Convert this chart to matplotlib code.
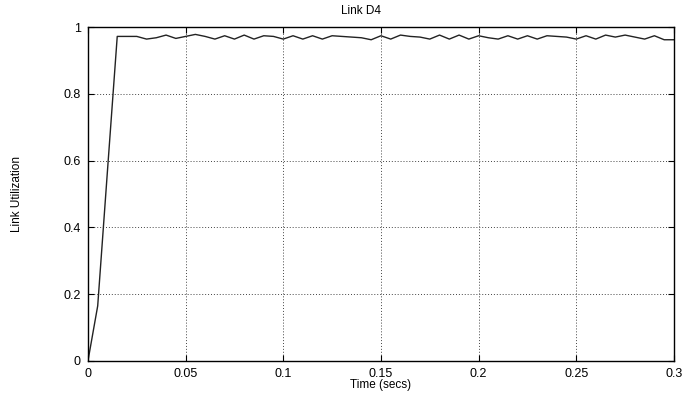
import matplotlib
matplotlib.use("Agg")
import matplotlib.pyplot as plt
import numpy as np

plt.rcParams['font.family'] = ['Liberation Sans', 'DejaVu Sans']

# samples every 5 ms
time = np.arange(61) * 0.005
util = [0.0, 0.165, 0.57, 0.972, 0.972, 0.972, 0.964, 0.968, 0.976, 0.966,
        0.972, 0.978, 0.972, 0.964, 0.974, 0.964, 0.976, 0.964, 0.974, 0.972,
        0.964, 0.974, 0.964, 0.974, 0.964, 0.974, 0.972, 0.970, 0.968, 0.962,
        0.974, 0.964, 0.976, 0.972, 0.970, 0.964, 0.976, 0.964, 0.976, 0.964,
        0.974, 0.968, 0.964, 0.974, 0.964, 0.974, 0.964, 0.974, 0.972, 0.970,
        0.964, 0.974, 0.964, 0.976, 0.970, 0.976, 0.970, 0.964, 0.974, 0.962,
        0.962]
xticks = [0, 0.05, 0.1, 0.15, 0.2, 0.25, 0.3]
xticklabels = ['0', '0.05', '0.1', '0.15', '0.2', '0.25', '0.3']
yticks = [0, 0.2, 0.4, 0.6, 0.8, 1]
yticklabels = ['0', '0.2', '0.4', '0.6', '0.8', '1']

fig = plt.figure(figsize=(6.87, 3.98), dpi=100)
ax = fig.add_axes([0.128, 0.093, 0.853, 0.839])

ax.plot(time, util, color='#222222', lw=1.0)

ax.set_xlim(0, 0.3)
ax.set_ylim(0, 1)
ax.set_xticks(xticks)
ax.set_xticklabels(xticklabels)
ax.set_yticks(yticks)
ax.set_yticklabels(yticklabels)
ax.tick_params(direction='in', top=True, right=True, length=4, width=0.8,
               labelsize=9, pad=5, colors='black')
ax.grid(True, linestyle=(0, (1, 2)), color='#444444', lw=0.7)
for s in ax.spines.values():
    s.set_linewidth(1.0)

fig.text(361 / 687, 1 - 11 / 398, 'Link D4', fontsize=8.5, ha='center', va='center')
ax.set_xlabel('Time (secs)', fontsize=8.5, labelpad=-1)
ax.set_ylabel('Link Utilization', fontsize=8.5, labelpad=29)

fig.savefig('out.png', dpi=100)
